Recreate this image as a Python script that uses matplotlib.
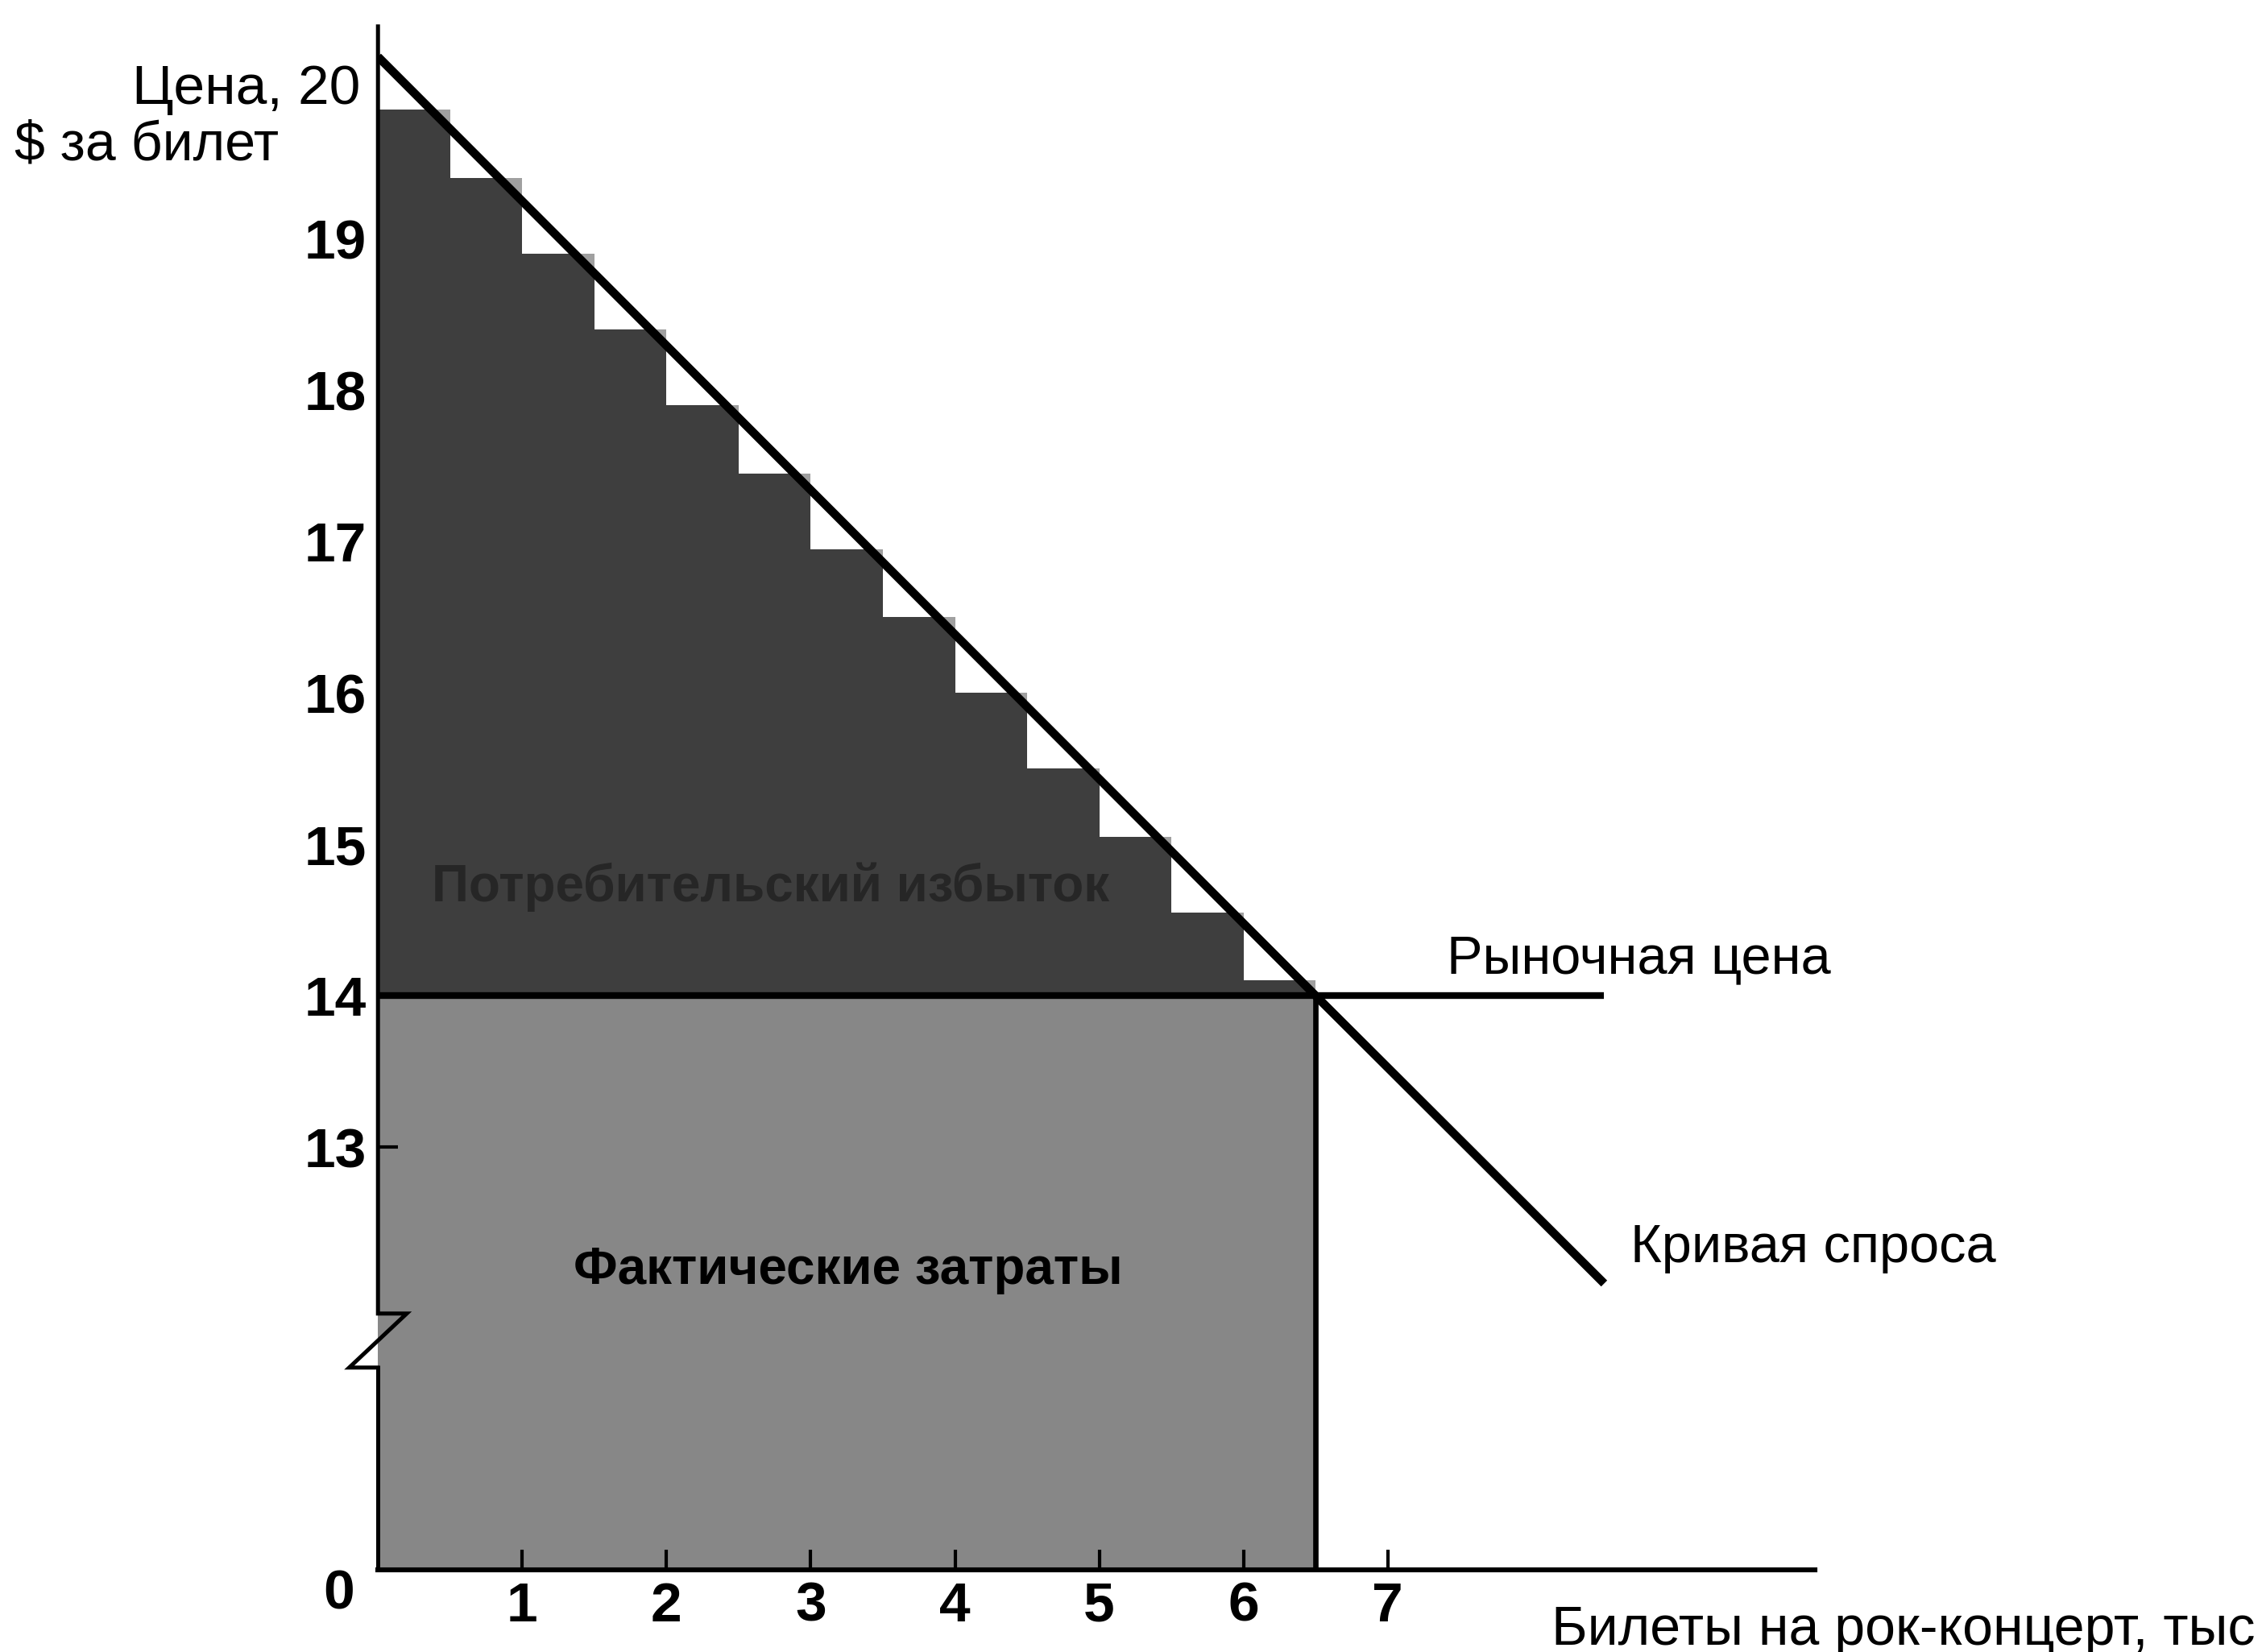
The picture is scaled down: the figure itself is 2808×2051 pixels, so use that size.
import numpy as np
import matplotlib.pyplot as plt
from matplotlib.patches import Polygon

# ---- data ----
demand_q = [0.0, 6.5, 8.5]           # тыс. билетов
demand_p = [20.2, 14.0, 12.1]        # $ за билет
market_price = 14.0
market_q = 6.5
market_line_end = 8.5

step_edges = [0.0, 0.5, 1.0, 1.5, 2.0, 2.5, 3.0, 3.5, 4.0, 4.5, 5.0, 5.5, 6.0, 6.5]
step_tops = [19.85, 19.4, 18.9, 18.4, 17.9, 17.45, 16.95, 16.5, 16.0, 15.5, 15.05, 14.55, 14.1]

y_ticks = [13, 14, 15, 16, 17, 18, 19]
x_ticks = [1, 2, 3, 4, 5, 6, 7]

# broken price axis: 0..12 squeezed into a short band
BREAK = 12.0
ZERO_POS = 10.21


def fwd(p):
    p = np.asarray(p, dtype=float)
    return np.where(p >= BREAK, p, ZERO_POS + p * (BREAK - ZERO_POS) / BREAK)


def inv(v):
    v = np.asarray(v, dtype=float)
    return np.where(v >= BREAK, v, (v - ZERO_POS) * BREAK / (BREAK - ZERO_POS))


plt.rcParams['font.family'] = ['Liberation Sans', 'DejaVu Sans']

fig = plt.figure(figsize=(14.04, 10.255), dpi=200)
ax = fig.add_axes([0.1671, 0.0498, 0.8023 - 0.1671, 0.984 - 0.0498])
ax.set_yscale('function', functions=(fwd, inv))
ax.set_xlim(0, 9.96)
ax.set_ylim(0, 20.4)

dark = '#3e3e3e'
light = '#a0a0a0'
mid = '#878787'

# actual spending (lower rectangle)
ax.fill_between([0, market_q], 0, market_price, color=mid, lw=0, zorder=1)

# consumer surplus staircase: lighter where it sticks out past the demand line
ax.stairs(step_tops, step_edges, baseline=market_price, fill=True, color=light, lw=0, zorder=1)
inner = ax.stairs(step_tops, step_edges, baseline=market_price, fill=True, color=dark, lw=0, zorder=2)
clip = Polygon([(demand_q[0], demand_p[0]), (demand_q[1], demand_p[1]), (0, market_price)],
               closed=True, transform=ax.transData)
inner.set_clip_path(clip)

# lines
ax.plot([0, market_line_end], [market_price, market_price], color='black', lw=3.0,
        solid_capstyle='butt', zorder=4)
ax.plot([market_q, market_q], [0, market_price], color='black', lw=2.4,
        solid_capstyle='butt', zorder=4)
ax.plot(demand_q, demand_p, color='black', lw=3.8, solid_capstyle='butt', zorder=5)

# axes
for s in ['top', 'right', 'left']:
    ax.spines[s].set_visible(False)
ax.spines['bottom'].set_linewidth(2.2)
ax.spines['bottom'].set_zorder(6)

b0, b1 = 0.131, 0.166
ax.plot([0, 0], [0, b0], transform=ax.transAxes, color='black', lw=1.8, clip_on=False, zorder=6)
ax.plot([0, 0, 0.02, -0.02, 0], [1, b1, b1, b0, b0], transform=ax.transAxes,
        color='black', lw=1.8, clip_on=False, zorder=6, solid_joinstyle='miter')

ax.set_xticks(x_ticks)
ax.set_xticklabels([str(t) for t in x_ticks], fontweight='bold')
ax.set_yticks(y_ticks)
ax.set_yticklabels([str(t) for t in y_ticks], fontweight='bold')
ax.yaxis.set_minor_locator(plt.NullLocator())
ax.tick_params(axis='x', direction='in', length=9, width=1.5, labelsize=25, pad=5)
ax.tick_params(axis='y', direction='in', length=9, width=1.5, labelsize=25, pad=5)

# texts
fig.text(250 / 1568, 1 - 62 / 1145, 'Цена, 20', ha='right', va='center', fontsize=25)
fig.text(10 / 1568, 1 - 101 / 1145, '$ за билет', ha='left', va='center', fontsize=24.5)
fig.text(235 / 1568, 1 - 1105 / 1145, '0', ha='center', va='center', fontsize=25,
         fontweight='bold')
fig.text(0.997, 1 - 1130 / 1145, 'Билеты на рок-концерт, тыс', ha='right', va='center',
         fontsize=24.5)

ax.text(7.41, 14.24, 'Рыночная цена', ha='left', va='center', fontsize=24)
ax.text(8.68, 12.33, 'Кривая спроса', ha='left', va='center', fontsize=24)
ax.text(2.72, 14.72, 'Потребительский избыток', ha='center', va='center', fontsize=23,
        fontweight='bold', color='#262626', zorder=3)
ax.text(3.26, 12.19, 'Фактические затраты', ha='center', va='center', fontsize=23,
        fontweight='bold', color='black', zorder=3)

fig.savefig('out.png', dpi=200, facecolor='white')
